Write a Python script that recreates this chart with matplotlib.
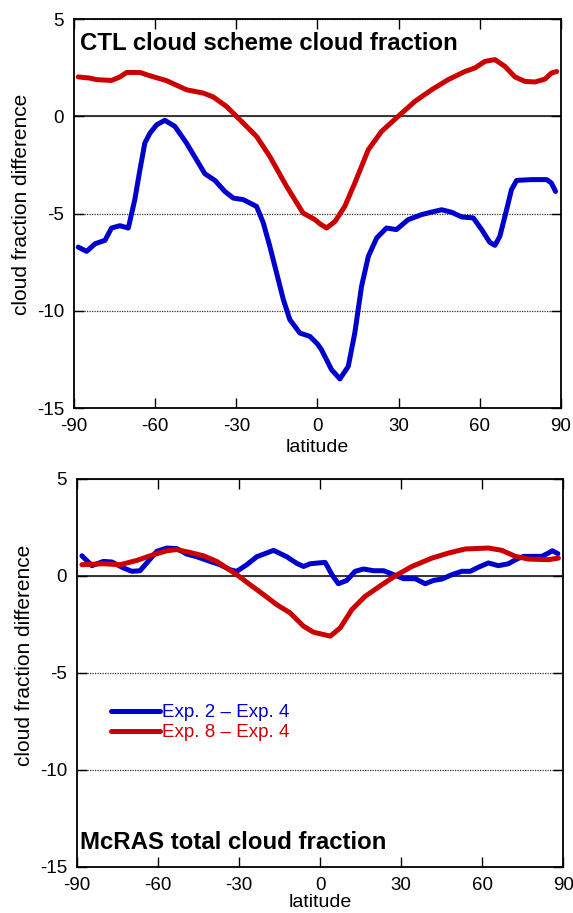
import numpy as np
import matplotlib.pyplot as plt

plt.rcParams['font.family'] = ['Liberation Sans', 'DejaVu Sans']
plt.rcParams['axes.unicode_minus'] = False

# top panel: CTL cloud scheme cloud fraction
ctl_blue_lat = [-88.4, -85.3, -82.2, -78.5, -76.1, -73.0, -69.9, -67.5, -65.6, -63.8,
                -61.9, -59.4, -56.4, -52.7, -48.4, -44.7, -41.6, -37.9, -34.2, -31.1,
                -27.4, -22.5, -20.0, -17.6, -15.1, -12.6, -10.2, -6.5, -2.8, 0.0,
                1.5, 5.2, 8.3, 11.4, 13.8, 16.3, 18.8, 21.9, 25.5, 29.2,
                33.5, 38.5, 42.2, 45.9, 49.6, 53.3, 57.6, 60.7, 63.7, 65.6,
                67.4, 69.9, 71.7, 73.6, 79.1, 84.7, 86.5, 88.0]
ctl_blue_val = [-6.72, -6.94, -6.55, -6.37, -5.74, -5.62, -5.74, -4.28, -2.74, -1.37,
                -0.86, -0.43, -0.20, -0.51, -1.37, -2.23, -2.95, -3.29, -3.86, -4.20,
                -4.28, -4.63, -5.48, -6.68, -8.05, -9.42, -10.45, -11.14, -11.31, -11.7,
                -12.0, -13.02, -13.5, -12.85, -11.14, -8.74, -7.20, -6.25, -5.74, -5.82,
                -5.31, -5.05, -4.92, -4.80, -4.93, -5.17, -5.22, -5.82, -6.48, -6.63,
                -6.17, -4.80, -3.77, -3.29, -3.25, -3.25, -3.43, -3.86]

ctl_red_lat = [-88.4, -84.1, -81.6, -76.1, -73.0, -70.5, -65.6, -61.9, -55.8, -48.4,
               -42.2, -38.5, -33.6, -29.9, -22.5, -17.6, -11.4, -5.3, -0.9, 0.9,
               3.4, 6.5, 10.1, 13.8, 18.8, 23.7, 29.8, 36.0, 42.2, 48.3,
               54.5, 58.2, 61.9, 65.6, 69.3, 73.0, 76.7, 80.4, 84.1, 86.5, 88.4]
ctl_red_val = [2.03, 1.97, 1.89, 1.85, 2.03, 2.26, 2.26, 2.09, 1.84, 1.37,
               1.20, 1.00, 0.51, 0.00, -1.03, -2.06, -3.60, -4.97, -5.31, -5.52,
               -5.74, -5.40, -4.63, -3.43, -1.71, -0.77, 0.00, 0.77, 1.37, 1.89,
               2.31, 2.49, 2.83, 2.92, 2.57, 2.03, 1.80, 1.77, 1.92, 2.23, 2.31]

# bottom panel: McRAS total cloud fraction
mc_blue_lat = [-88.1, -84.4, -80.2, -77.0, -72.7, -69.6, -66.6, -64.1, -60.4, -56.7,
               -53.0, -49.3, -45.6, -40.7, -37.0, -33.3, -30.8, -27.1, -23.4, -17.2,
               -12.3, -8.6, -6.1, -3.6, -0.6, 1.9, 4.4, 6.8, 9.9, 13.0,
               16.1, 19.8, 23.5, 27.2, 30.9, 35.2, 38.9, 42.0, 45.1, 48.8,
               52.5, 55.6, 58.6, 62.3, 66.0, 69.7, 72.8, 75.3, 82.1, 84.5, 86.0, 88.0]
mc_blue_val = [1.04, 0.53, 0.75, 0.72, 0.41, 0.24, 0.27, 0.67, 1.27, 1.44,
               1.41, 1.13, 0.99, 0.75, 0.58, 0.32, 0.24, 0.58, 0.99, 1.32,
               0.99, 0.65, 0.49, 0.63, 0.67, 0.70, 0.07, -0.40, -0.23, 0.24,
               0.36, 0.27, 0.27, 0.07, -0.14, -0.14, -0.40, -0.23, -0.16, 0.07,
               0.24, 0.24, 0.45, 0.67, 0.53, 0.63, 0.87, 1.01, 1.01, 1.18, 1.30, 1.15]

mc_red_lat = [-88.1, -80.2, -74.0, -67.8, -61.6, -56.7, -53.0, -48.1, -43.1, -38.2,
              -34.5, -30.8, -25.9, -20.9, -16.0, -11.1, -6.1, -2.4, 3.8, 7.5,
              11.8, 16.7, 22.9, 27.8, 34.0, 41.4, 47.5, 53.7, 62.3, 67.3,
              72.3, 77.2, 84.5, 88.2]
mc_red_val = [0.58, 0.63, 0.58, 0.80, 1.10, 1.30, 1.36, 1.21, 1.04, 0.75,
              0.41, 0.07, -0.45, -0.96, -1.48, -1.90, -2.59, -2.90, -3.10, -2.67,
              -1.73, -1.05, -0.45, 0.00, 0.49, 0.92, 1.18, 1.39, 1.44, 1.32,
              1.01, 0.87, 0.84, 0.92]

BLUE = '#0000cc'
RED = '#cc0000'

fig = plt.figure(figsize=(5.73, 9.13), dpi=100)
ax1 = fig.add_axes([0.129, 0.553, 0.850, 0.426])
ax2 = fig.add_axes([0.134, 0.0504, 0.849, 0.425])


def style_axes(ax, label_y, xpad):
    ax.set_xlim(-90, 90)
    ax.set_ylim(-15, 5)
    ax.set_xticks(np.arange(-90, 91, 30))
    ax.set_yticks(np.arange(-15, 6, 5))
    ax.tick_params(direction='in', length=7, width=1, top=True, right=True,
                   labelsize=13.5)
    ax.tick_params(axis='x', pad=7)
    ax.tick_params(axis='y', pad=7)
    for s in ax.spines.values():
        s.set_linewidth(1.3)
    ax.yaxis.grid(True, linestyle=(0, (1, 1)), color='#333333', linewidth=0.9)
    ax.axhline(0, color='black', linewidth=1.1, zorder=1.5)
    ax.set_xlabel('latitude', fontsize=14, labelpad=xpad)
    ax.set_ylabel('cloud fraction difference', fontsize=15)
    ax.yaxis.set_label_coords(-0.088, label_y)


style_axes(ax1, 0.525, 3)
ax1.plot(ctl_red_lat, ctl_red_val, color=RED, lw=3.6, solid_joinstyle='round',
         solid_capstyle='round', zorder=3)
ax1.plot(ctl_blue_lat, ctl_blue_val, color=BLUE, lw=3.6, solid_joinstyle='round',
         solid_capstyle='round', zorder=3)
ax1.text(0.012, 0.938, 'CTL cloud scheme cloud fraction', transform=ax1.transAxes,
         fontsize=17.3, fontweight='bold', va='center', ha='left')

style_axes(ax2, 0.545, 0.5)
ax2.plot(mc_blue_lat, mc_blue_val, color=BLUE, lw=3.6, solid_joinstyle='round',
         solid_capstyle='round', zorder=3, label='Exp. 2 – Exp. 4')
ax2.plot(mc_red_lat, mc_red_val, color=RED, lw=3.6, solid_joinstyle='round',
         solid_capstyle='round', zorder=3, label='Exp. 8 – Exp. 4')
ax2.text(0.006, 0.064, 'McRAS total cloud fraction', transform=ax2.transAxes,
         fontsize=17.3, fontweight='bold', va='center', ha='left')
ax2.legend(loc='center left', bbox_to_anchor=(0.07, 0.372), frameon=False,
           fontsize=13.5, labelcolor='linecolor', handlelength=2.6,
           handletextpad=0.15, labelspacing=0.15, borderpad=0, borderaxespad=0)

fig.savefig('out.png', dpi=100)
